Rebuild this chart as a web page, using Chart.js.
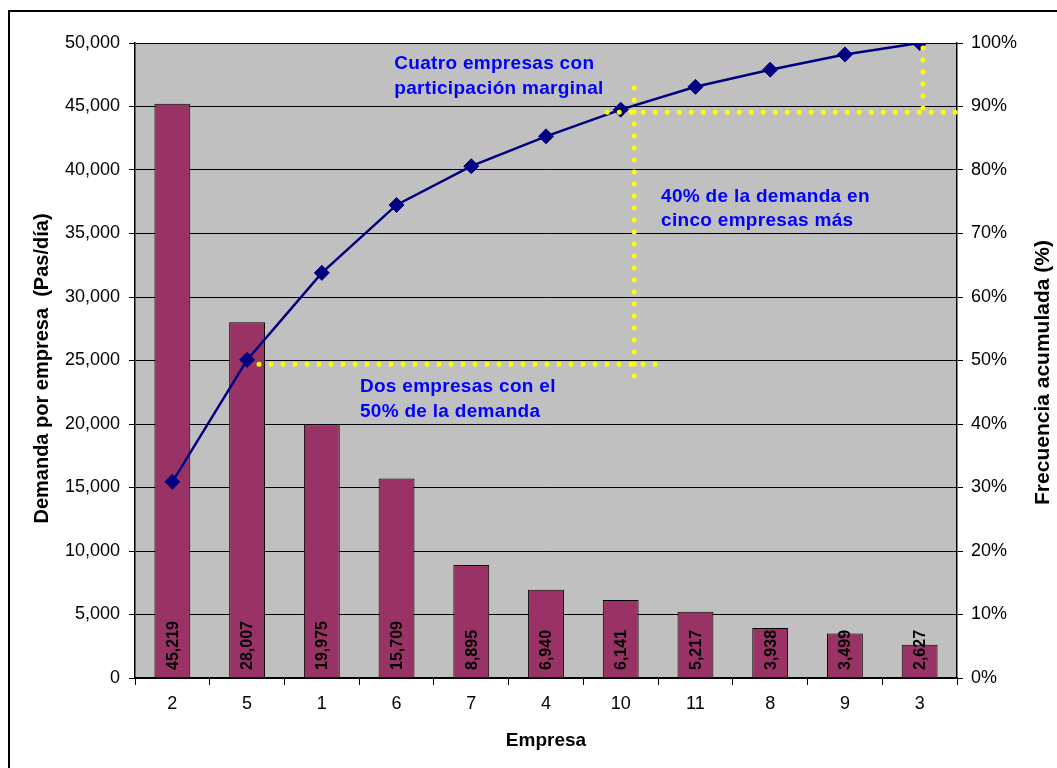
<!DOCTYPE html>
<html>
<head>
<meta charset="utf-8">
<script src="https://cdn.jsdelivr.net/npm/chart.js@4.4.0/dist/chart.umd.min.js"></script>
<style>
  body { margin: 0; background: #fff; }
  canvas { display: block; }
</style>
</head>
<body>
<canvas id="pareto" width="1057" height="768"></canvas>
<script>
// Datos
const empresas = ['2', '5', '1', '6', '7', '4', '10', '11', '8', '9', '3'];
const demanda = [45219, 28007, 19975, 15709, 8895, 6940, 6141, 5217, 3938, 3499, 2627];
const acumulada = [30.9, 50.1, 63.8, 74.5, 80.6, 85.3, 89.5, 93.1, 95.8, 98.2, 100];

// lineas punteadas amarillas (x = indice de empresa, y = % acumulado)
const guiaDos = [[1.16, 49.4], [6.53, 49.4]];
const guiaVertical = [[6.18, 92.9], [6.18, 47.2]];
const guiaCuatro = [[5.82, 89.1], [10.51, 89.1]];
const guiaFinal = [[10.045, 99.2], [10.045, 87.9]];

// notas de texto (x, y en las mismas unidades)
const notaCuatro = { x: 2.97, y: 97.0, lineas: ['Cuatro empresas con', 'participación marginal'] };
const notaCinco = { x: 6.54, y: 76.1, lineas: ['40% de la demanda en', 'cinco empresas más'] };
const notaDos = { x: 2.51, y: 46.1, lineas: ['Dos empresas con el', '50% de la demanda'] };

const FUENTE = "'Liberation Sans', Arial, sans-serif";

const fondo = {
  id: 'fondo',
  beforeDraw(chart) {
    const { ctx, chartArea: a } = chart;
    ctx.save();
    ctx.fillStyle = '#fff';
    ctx.fillRect(0, 0, chart.width, chart.height);
    ctx.fillStyle = '#c0c0c0';
    ctx.fillRect(a.left, a.top, a.right - a.left, a.bottom - a.top);
    ctx.strokeStyle = '#000';
    ctx.lineWidth = 2;
    ctx.strokeRect(9, 11, chart.width + 20, chart.height + 20);
    ctx.restore();
  }
};

const extras = {
  id: 'extras',
  afterDatasetsDraw(chart) {
    const { ctx, chartArea: a, scales } = chart;
    const x = scales.x, y2 = scales.y2;

    // etiquetas de barras
    const meta = chart.getDatasetMeta(1);
    ctx.save();
    ctx.font = 'bold 16px ' + FUENTE;
    ctx.fillStyle = '#000';
    ctx.textAlign = 'left';
    ctx.textBaseline = 'middle';
    meta.data.forEach((bar, i) => {
      ctx.save();
      ctx.translate(bar.x + 1, a.bottom - 8);
      ctx.rotate(-Math.PI / 2);
      ctx.fillText(demanda[i].toLocaleString('en-US'), 0, 0);
      ctx.restore();
    });
    ctx.restore();

    // lineas punteadas
    ctx.save();
    ctx.strokeStyle = '#ffff00';
    ctx.lineWidth = 5;
    ctx.lineCap = 'round';
    ctx.setLineDash([0, 12]);
    [guiaDos, guiaVertical, guiaCuatro, guiaFinal].forEach(g => {
      ctx.beginPath();
      ctx.moveTo(x.getPixelForValue(g[0][0]), y2.getPixelForValue(g[0][1]));
      ctx.lineTo(x.getPixelForValue(g[1][0]), y2.getPixelForValue(g[1][1]));
      ctx.stroke();
    });
    ctx.restore();

    // notas
    ctx.save();
    ctx.font = 'bold 19px ' + FUENTE;
    ctx.letterSpacing = '0.3px';
    ctx.fillStyle = '#0000ff';
    ctx.textAlign = 'left';
    ctx.textBaseline = 'alphabetic';
    [notaCuatro, notaCinco, notaDos].forEach(n => {
      const px = x.getPixelForValue(n.x);
      const py = y2.getPixelForValue(n.y);
      n.lineas.forEach((t, k) => ctx.fillText(t, px, py + 7 + k * 24.5));
    });
    ctx.restore();

    // titulos de ejes
    ctx.save();
    ctx.fillStyle = '#000';
    ctx.textAlign = 'center';
    ctx.textBaseline = 'middle';
    ctx.font = 'bold 19px ' + FUENTE;
    ctx.fillText('Empresa', (a.left + a.right) / 2, a.bottom + 63);
    ctx.save();
    ctx.font = 'bold 20px ' + FUENTE;
    ctx.translate(a.left - 93, (a.top + a.bottom) / 2 + 8);
    ctx.rotate(-Math.PI / 2);
    ctx.fillText('Demanda por empresa  (Pas/día)', 0, 0);
    ctx.restore();
    ctx.save();
    ctx.font = 'bold 21px ' + FUENTE;
    ctx.translate(a.right + 86, (a.top + a.bottom) / 2 + 12);
    ctx.rotate(-Math.PI / 2);
    ctx.fillText('Frecuencia acumulada (%)', 0, 0);
    ctx.restore();
    ctx.restore();
  }
};

new Chart(document.getElementById('pareto'), {
  data: {
    labels: empresas,
    datasets: [
      {
        type: 'line',
        label: 'Frecuencia acumulada',
        data: acumulada,
        yAxisID: 'y2',
        borderColor: '#000080',
        backgroundColor: '#000080',
        borderWidth: 2.5,
        pointStyle: 'rectRot',
        pointRadius: 7.5,
        pointBorderWidth: 1,
        tension: 0,
        order: 0
      },
      {
        type: 'bar',
        label: 'Demanda',
        data: demanda,
        yAxisID: 'y',
        backgroundColor: '#993366',
        borderColor: '#000',
        borderWidth: 1,
        categoryPercentage: 1,
        barPercentage: 0.48,
        order: 1
      }
    ]
  },
  options: {
    responsive: false,
    animation: false,
    layout: { padding: { top: 43, left: 0, right: 0, bottom: 0 } },
    plugins: { legend: { display: false }, tooltip: { enabled: false } },
    scales: {
      x: {
        offset: true,
        grid: { offset: true, drawOnChartArea: false, color: '#000', tickLength: 7 },
        border: { color: '#000', width: 1.5 },
        ticks: { color: '#000', font: { size: 18, family: FUENTE }, padding: 8 },
        afterFit: s => { s.height = 90; }
      },
      y: {
        position: 'left',
        min: 0,
        max: 50000,
        ticks: {
          stepSize: 5000,
          color: '#000',
          font: { size: 18, family: FUENTE },
          padding: 9,
          callback: v => v.toLocaleString('en-US')
        },
        grid: { color: '#000', tickLength: 6 },
        border: { color: '#000', width: 1.5 },
        afterFit: s => { s.width = 135; }
      },
      y2: {
        position: 'right',
        min: 0,
        max: 100,
        ticks: {
          stepSize: 10,
          color: '#000',
          font: { size: 18, family: FUENTE },
          padding: 8,
          callback: v => v + '%'
        },
        grid: { drawOnChartArea: false, color: '#000', tickLength: 6 },
        border: { color: '#000', width: 1.5 },
        afterFit: s => { s.width = 100; }
      }
    }
  },
  plugins: [fondo, extras]
});
</script>
</body>
</html>
